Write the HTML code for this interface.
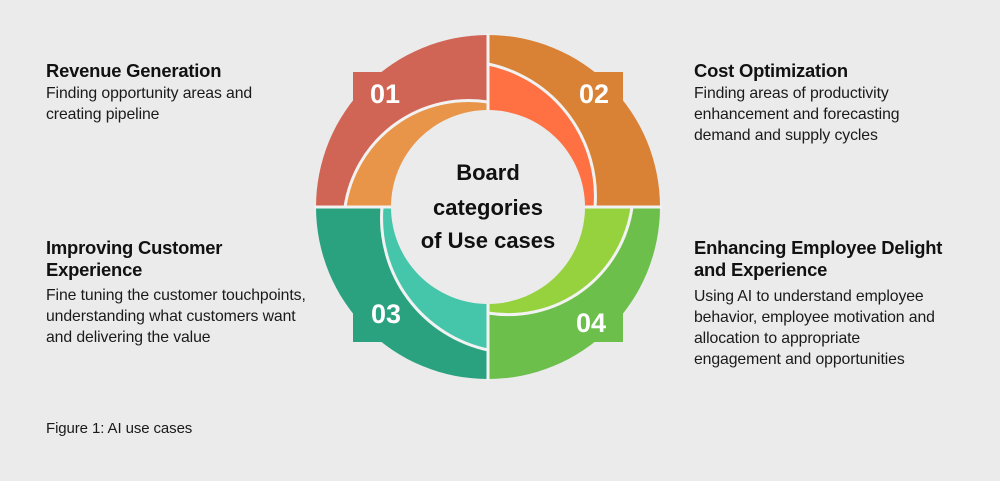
<!DOCTYPE html>
<html><head><meta charset="utf-8"><style>
body{margin:0;width:1000px;height:481px;background:#ebebeb;overflow:hidden;position:relative;font-family:"Liberation Sans",sans-serif;color:#111}
.t{position:absolute;font-weight:bold;font-size:18.4px;white-space:nowrap;line-height:22px;letter-spacing:-0.2px}
.b{position:absolute;font-size:15.8px;white-space:nowrap;line-height:21px;color:#1a1a1a;letter-spacing:-0.1px}
svg{position:absolute;left:0;top:0}
</style></head><body>
<svg width="1000" height="481" viewBox="0 0 1000 481">
<g stroke="none">
<rect x="353" y="72" width="135" height="60" fill="#d06455"/>
<rect x="488" y="72" width="135" height="60" fill="#d98236"/>
<rect x="353" y="282" width="135" height="60" fill="#2aa27f"/>
<rect x="488" y="282" width="135" height="60" fill="#6cbf4a"/>
<path d="M488,207 L316,207 A172,172 0 0 1 488,35 Z" fill="#d06455"/>
<path d="M488,207 L488,35 A172,172 0 0 1 660,207 Z" fill="#d98236"/>
<path d="M488,207 L316,207 A172,172 0 0 0 488,379 Z" fill="#2aa27f"/>
<path d="M488,207 L660,207 A172,172 0 0 1 488,379 Z" fill="#6cbf4a"/>
</g>
<g stroke="#f2f2f2" stroke-width="3">
<path d="M488,207 L345,207 A125,125 0 0 1 488,102 Z" fill="#e8954a"/>
<path d="M488,207 L488,64 A135,135 0 0 1 595,207 Z" fill="#ff7043"/>
<path d="M488,207 L382,207 A135,135 0 0 0 488,350 Z" fill="#45c6aa"/>
<path d="M488,207 L632,207 A125,125 0 0 1 488,313 Z" fill="#96d13e"/>
<line x1="488" y1="33" x2="488" y2="381"/>
<line x1="314" y1="207" x2="662" y2="207"/>
</g>
<circle cx="488" cy="207" r="97" fill="#ebebeb"/>
<g fill="#fff" font-family="Liberation Sans" font-size="27" font-weight="bold" text-anchor="middle">
<text x="385" y="103">01</text>
<text x="594" y="103">02</text>
<text x="386" y="323">03</text>
<text x="591" y="332">04</text>
</g>
<g fill="#111" font-family="Liberation Sans" font-size="22" font-weight="bold" text-anchor="middle">
<text x="488" y="180">Board</text>
<text x="488" y="215">categories</text>
<text x="488" y="248">of Use cases</text>
</g>
</svg>
<div class="t" style="left:46px;top:60px">Revenue Generation</div>
<div class="b" style="left:46px;top:83px">Finding opportunity areas and<br>creating pipeline</div>
<div class="t" style="left:46px;top:237px">Improving Customer<br>Experience</div>
<div class="b" style="left:46px;top:285px">Fine tuning the customer touchpoints,<br>understanding what customers want<br>and delivering the value</div>
<div class="t" style="left:694px;top:60px">Cost Optimization</div>
<div class="b" style="left:694px;top:83px">Finding areas of productivity<br>enhancement and forecasting<br>demand and supply cycles</div>
<div class="t" style="left:694px;top:237px">Enhancing Employee Delight<br>and Experience</div>
<div class="b" style="left:694px;top:286px">Using AI to understand employee<br>behavior, employee motivation and<br>allocation to appropriate<br>engagement and opportunities</div>
<div class="b" style="left:46px;top:418px;font-size:15px">Figure 1: AI use cases</div>
</body></html>
